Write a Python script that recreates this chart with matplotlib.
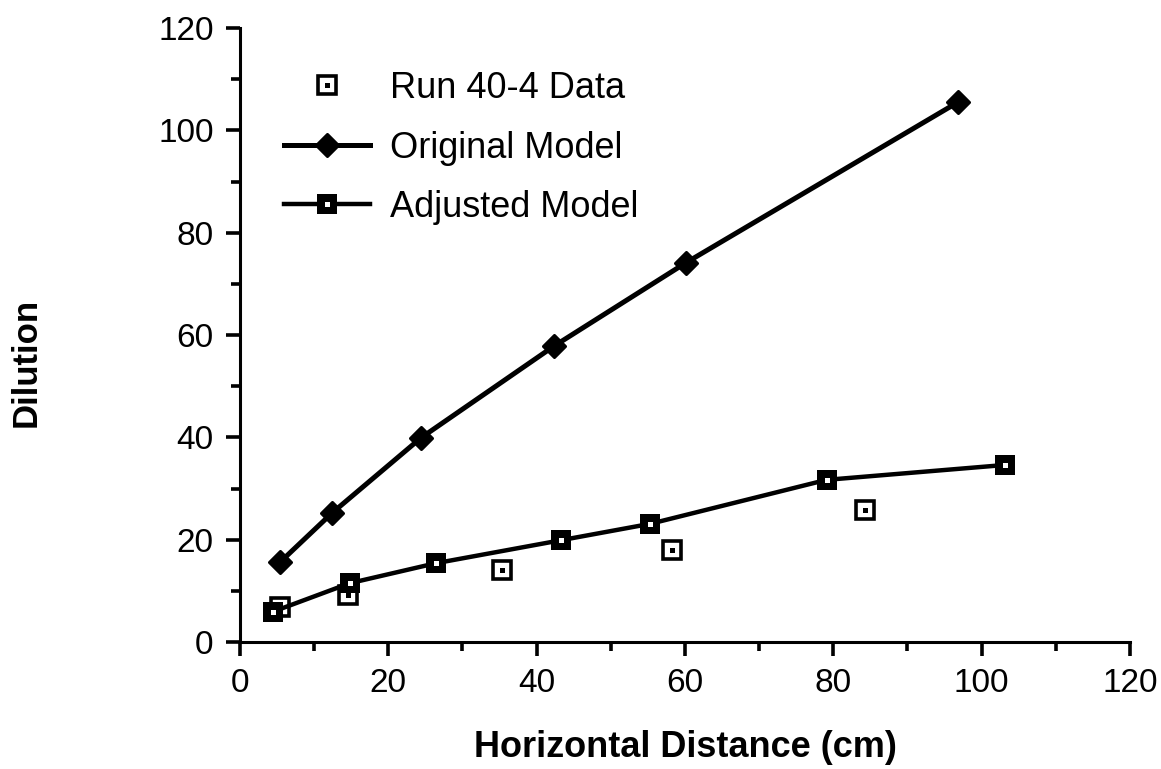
import matplotlib
matplotlib.use("Agg")
from matplotlib import pyplot as plt
from matplotlib.markers import MarkerStyle
from matplotlib.ticker import MultipleLocator

plt.rcParams['font.family'] = ['Liberation Sans', 'DejaVu Sans']

# run 40-4 measurements
data_x = [5.4, 14.6, 35.3, 58.2, 84.3]
data_y = [6.8, 9.2, 14.1, 18.0, 25.8]

# original model
orig_x = [5.4, 12.4, 24.4, 42.3, 60.1, 96.8]
orig_y = [15.6, 25.2, 39.9, 57.8, 74.1, 105.5]

# adjusted model
adj_x = [4.4, 14.8, 26.4, 43.3, 55.3, 79.1, 103.1]
adj_y = [5.9, 11.5, 15.4, 19.9, 23.1, 31.7, 34.6]

fig = plt.figure(figsize=(11.61, 7.69), dpi=100)
ax = fig.add_axes([0.2067, 0.1651, 0.7666, 0.7985])

# hollow square with a dot in the middle
d_box, = ax.plot(data_x, data_y, linestyle='none', marker='s', markersize=13,
                 markerfacecolor='white', markeredgecolor='black',
                 markeredgewidth=2.6, zorder=3)
d_dot, = ax.plot(data_x, data_y, linestyle='none', marker='s', markersize=3.6,
                 color='black', markeredgewidth=0, zorder=4)

diamond = MarkerStyle('D', joinstyle='round')
o_line, = ax.plot(orig_x, orig_y, color='black', linewidth=3.6, marker=diamond,
                  markersize=11.5, markeredgewidth=2.2, zorder=5)

# filled square with a white dot
a_line, = ax.plot(adj_x, adj_y, color='black', linewidth=3.2, marker='s',
                  markersize=15, markeredgewidth=0, zorder=5)
a_dot, = ax.plot(adj_x, adj_y, linestyle='none', marker='s', markersize=3.6,
                 color='white', markeredgewidth=0, zorder=6)

ax.set_xlim(0, 120)
ax.set_ylim(0, 120)
ax.xaxis.set_major_locator(MultipleLocator(20))
ax.xaxis.set_minor_locator(MultipleLocator(10))
ax.yaxis.set_major_locator(MultipleLocator(20))
ax.yaxis.set_minor_locator(MultipleLocator(10))

for side in ['top', 'right']:
    ax.spines[side].set_visible(False)
for side in ['left', 'bottom']:
    ax.spines[side].set_linewidth(2.2)

ax.tick_params(which='major', direction='out', length=10, width=2.6,
               labelsize=24, pad=9)
ax.tick_params(which='minor', direction='out', length=6.5, width=2.6)

ax.set_xlabel('Horizontal Distance (cm)', fontsize=26, fontweight='bold',
              labelpad=22)
ax.set_ylabel('Dilution', fontsize=25, fontweight='bold')
ax.yaxis.set_label_coords(-0.222, 0.455)

leg = ax.legend([(d_box, d_dot), (o_line,), (a_line, a_dot)],
                ['Run 40-4 Data', 'Original Model', 'Adjusted Model'],
                loc='upper left', bbox_to_anchor=(0.05, 0.93), frameon=False,
                fontsize=26, handlelength=2.36, handletextpad=0.55,
                labelspacing=0.68, borderpad=0, borderaxespad=0)

fig.savefig('out.png', dpi=100)
